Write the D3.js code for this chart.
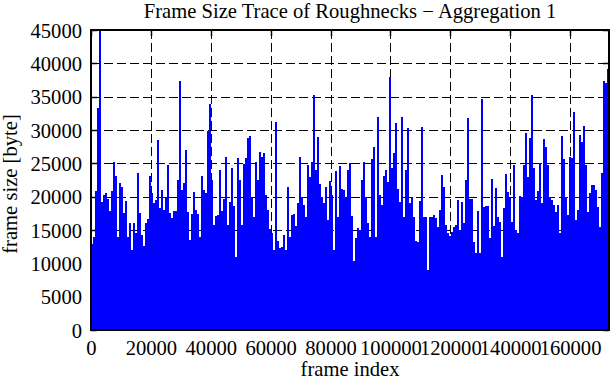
<!DOCTYPE html>
<html><head><meta charset="utf-8">
<script src="https://cdn.jsdelivr.net/npm/d3@7"></script>
<style>
body{margin:0;background:#fff;}
text{font-family:"Liberation Serif","Times New Roman",serif;fill:#000;}
</style>
</head><body>
<svg id="chart" width="611" height="380"></svg>
<script>
// Envelope of frame sizes (max per bin of frameStep frames)
const frameStep = 668;
const frameSizes = [
12850, 13950, 20850, 33250, 45000, 19250, 20250, 20500, 19650, 17800,
20850, 25250, 23100, 14000, 22000, 21500, 17500, 19350, 14000, 16050,
12000, 16050, 14500, 23550, 17500, 14300, 12600, 16050, 16650, 23100,
20500, 19000, 19500, 28500, 18250, 21000, 18000, 20000, 24750, 17500,
16800, 17800, 17850, 22500,
37350, 21000, 22050, 27000, 17750, 13500, 17400, 20750, 18000, 17400,
14000, 23100, 21000, 20500, 29850, 33850, 22500, 15750, 17150, 17250,
24000, 17800, 19650, 25950, 15750, 19250, 24250, 18650, 11000, 25750,
22500, 15750, 24900, 25850, 28750, 29100, 19850, 16950, 25250, 22500,
26750, 26000, 26600,
20250, 18000, 15200, 14500, 12000, 31250, 13350, 12250, 12500, 14250,
12000, 21450, 14000, 17250, 17400, 15600, 19050, 25900, 20000, 18750,
17000, 24750, 23000, 25250, 35250, 24000, 29000, 21850, 20000, 19000,
21400, 16500, 22350, 20250, 12000, 23900, 17000, 24600, 21150, 21000,
19750, 24000, 25000,
17050, 10350, 13850, 15250, 15000, 22500, 25250, 20000, 16000, 14000,
25650, 27500, 14000, 31950, 20250, 18750, 23100, 23950, 22250, 37900,
24250, 26500, 31100, 21150, 19250, 31950, 17000, 24000, 30250, 19000,
20000, 17000, 13350, 13250, 19350, 30450, 17000, 17000, 9000, 16950,
17000, 17250, 16750,
15500, 18000, 23250, 21450, 15750, 14500, 14150, 14750, 15500, 15750,
19500, 15000, 19250, 16000, 22500, 31750, 19650, 19650, 13150, 11500,
17850, 11500, 34650, 18450, 18600, 18600, 13750, 22700, 15600, 21350,
17000, 16250, 11000, 18350, 23400, 20750, 19750, 16250, 24750, 15000,
14500, 20100, 20000,
24750, 29600, 23000, 28750, 35250, 24250, 19500, 20900, 25000, 19100,
28650, 27500, 24750, 20000, 19500, 18750, 17750, 18750, 14500, 29100,
25650, 20000, 17250, 26000, 25750, 32650, 16500, 18000, 29250, 28250,
30650, 24750, 17750, 20500, 21750, 21750, 21000, 18500, 15500, 23500,
37350, 37000, 39150
];
const xTicks = [0, 20000, 40000, 60000, 80000, 100000, 120000, 140000, 160000];
const yTicks = [0, 5000, 10000, 15000, 20000, 25000, 30000, 35000, 40000, 45000];
const xMax = 173000;
const yMax = 45000;
const titleText = "Frame Size Trace of Roughnecks \u2212 Aggregation 1";
const xLabel = "frame index";
const yLabel = "frame size [byte]";

const svg = d3.select("#chart");
const L = 91, R = 609, T = 30, B = 330;
const x = d3.scaleLinear().domain([0, xMax]).range([L, R]);
const y = d3.scaleLinear().domain([0, yMax]).range([B, T]);

svg.append("rect").attr("width", 611).attr("height", 380).attr("fill", "#fff");

// grid (behind data)
const grid = svg.append("g").attr("stroke", "#000").attr("stroke-width", 1)
  .attr("stroke-dasharray", "9,4").attr("fill", "none");
xTicks.filter(d => d > 0).forEach(d => {
  grid.append("line").attr("x1", Math.round(x(d)) + 0.5).attr("x2", Math.round(x(d)) + 0.5)
    .attr("y1", T).attr("y2", B);
});
yTicks.filter(d => d > 0 && d < yMax).forEach(d => {
  grid.append("line").attr("y1", Math.round(y(d)) + 0.5).attr("y2", Math.round(y(d)) + 0.5)
    .attr("x1", L).attr("x2", R);
});

// mirrored inward ticks
const tickLen = 6;
const ticks = svg.append("g").attr("stroke", "#000").attr("stroke-width", 1.5);
xTicks.forEach(d => {
  const xx = Math.round(x(d)) + 0.5;
  ticks.append("line").attr("x1", xx).attr("x2", xx).attr("y1", T).attr("y2", T + tickLen);
  ticks.append("line").attr("x1", xx).attr("x2", xx).attr("y1", B).attr("y2", B - tickLen);
});
yTicks.forEach(d => {
  const yy = Math.round(y(d)) + 0.5;
  ticks.append("line").attr("y1", yy).attr("y2", yy).attr("x1", L).attr("x2", L + tickLen);
  ticks.append("line").attr("y1", yy).attr("y2", yy).attr("x1", R).attr("x2", R - tickLen);
});

// data as impulses envelope
svg.append("clipPath").attr("id", "clip").append("rect")
  .attr("x", L).attr("y", T).attr("width", R - L).attr("height", B - T);
const pts = frameSizes.map((v, i) => [i * frameStep, v]);
pts.push([frameSizes.length * frameStep, frameSizes[frameSizes.length - 1]]);
const area = d3.area().x(d => x(d[0])).y0(y(0)).y1(d => y(d[1])).curve(d3.curveStepAfter);
svg.append("path").datum(pts).attr("clip-path", "url(#clip)")
  .attr("d", area).attr("fill", "#0000ff").attr("shape-rendering", "crispEdges");

// frame
svg.append("rect").attr("x", L).attr("y", T).attr("width", R - L).attr("height", B - T)
  .attr("fill", "none").attr("stroke", "#000").attr("stroke-width", 2);

// axes labels via d3 axes (lines hidden)
const fs = 20.6;
const xAxis = svg.append("g").attr("transform", `translate(0,${B})`)
  .call(d3.axisBottom(x).tickValues(xTicks).tickFormat(d3.format("d")).tickSize(0).tickPadding(0));
xAxis.select(".domain").remove();
xAxis.selectAll("text").attr("y", 25).attr("dy", null).attr("font-size", fs)
  .attr("font-family", '"Liberation Serif","Times New Roman",serif');

const yAxis = svg.append("g").attr("transform", `translate(${L},0)`)
  .call(d3.axisLeft(y).tickValues(yTicks).tickFormat(d3.format("d")).tickSize(0).tickPadding(9));
yAxis.select(".domain").remove();
yAxis.selectAll("text").attr("dy", "0.34em").attr("font-size", fs)
  .attr("font-family", '"Liberation Serif","Times New Roman",serif');

svg.append("text").attr("x", 350).attr("y", 18).attr("text-anchor", "middle")
  .attr("font-size", fs).text(titleText);
svg.append("text").attr("x", 350).attr("y", 376).attr("text-anchor", "middle")
  .attr("font-size", fs).text(xLabel);
svg.append("text").attr("transform", "translate(17,184) rotate(-90)").attr("text-anchor", "middle")
  .attr("font-size", fs).text(yLabel);
</script>
</body></html>
